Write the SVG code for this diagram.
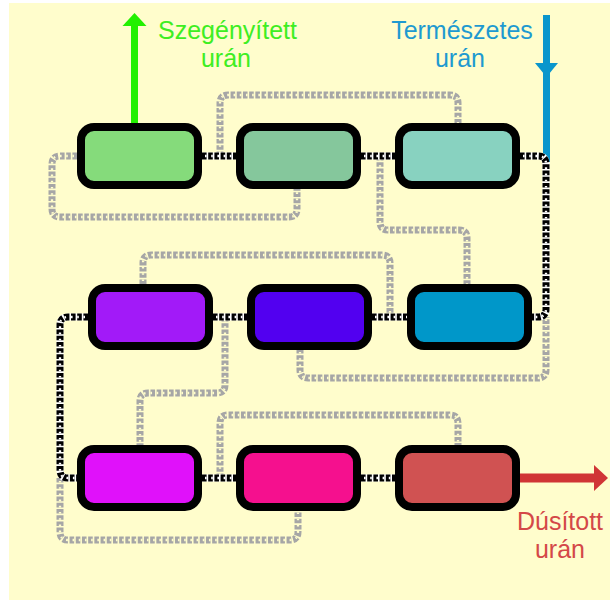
<svg xmlns="http://www.w3.org/2000/svg" width="610" height="600" viewBox="0 0 610 600">
  <style>
    .box { stroke: #000; stroke-width: 8; }
    .chain { fill: none; stroke-linejoin: round; }
    .g-base { stroke: #A6A6A6; stroke-width: 7; stroke-dasharray: 4.6 1.6; }
    .g-cut { stroke: #FFFDCC; stroke-width: 2.3; stroke-dasharray: 1.6 4.6; stroke-dashoffset: -3; }
    .k-under { stroke: #FFFFFF; stroke-width: 7; }
    .k-base { stroke: #000; stroke-width: 7; stroke-dasharray: 4.6 1.6; }
    .k-cut { stroke: #FFFFFF; stroke-width: 2.3; stroke-dasharray: 1.6 4.6; stroke-dashoffset: -3; }
    .lbl { font-family: "Liberation Sans", Arial, sans-serif; font-size: 25px; text-anchor: middle; }
  </style>
  <defs>
    <!-- return streams (gray) and forward streams (black) -->
    <path id="g1" d="M77,156 L60,156 Q52,156 52,164 L52,209 Q52,217 60,217 L289,217 Q297,217 297,209 L297,189"/>
    <path id="g2" d="M220,156 L220,103 Q220,95 228,95 L450,95 Q458,95 458,103 L458,123"/>
    <path id="g3" d="M380,156 L380,222 Q380,230 388,230 L459,230 Q467,230 467,238 L467,284"/>
    <path id="g4" d="M143,284 L143,263 Q143,255 151,255 L382,255 Q390,255 390,263 L390,317"/>
    <path id="g5" d="M300,349 L300,370 Q300,378 308,378 L538,378 Q546,378 546,370 L546,317"/>
    <path id="g6" d="M225,317 L225,385 Q225,393 217,393 L148,393 Q140,393 140,401 L140,445"/>
    <path id="g7" d="M60,478 L60,532 Q60,540 68,540 L290,540 Q298,540 298,532 L298,510"/>
    <path id="g8" d="M220,478 L220,423 Q220,415 228,415 L450,415 Q458,415 458,423 L458,445"/>
    <path id="k1" d="M202,156 L236,156"/>
    <path id="k2" d="M361,156 L395,156"/>
    <path id="k3" d="M213,317 L247,317"/>
    <path id="k4" d="M372,317 L407,317"/>
    <path id="k5" d="M202,478 L236,478"/>
    <path id="k6" d="M361,478 L395,478"/>
    <path id="k7" d="M520,156 L538,156 Q546,156 546,164 L546,309 Q546,317 538,317 L532,317"/>
    <path id="k8" d="M88,317 L68,317 Q60,317 60,325 L60,470 Q60,478 68,478 L77,478"/>
  </defs>

  <rect x="0" y="0" width="610" height="600" fill="#FFFFFF"/>
  <rect x="9" y="3" width="601" height="597" fill="#FFFDCC"/>

  <!-- feed and product streams -->
  <g id="streams">
    <line x1="134.5" y1="124" x2="134.5" y2="24" stroke="#22F000" stroke-width="7"/>
    <polygon points="122.5,26 134.5,13 146.5,26" fill="#22F000"/>
    <line x1="546.5" y1="15" x2="546.5" y2="162" stroke="#0A96CC" stroke-width="7"/>
    <polygon points="535,63 558,63 546.5,77" fill="#0A96CC"/>
    <line x1="519" y1="478" x2="597" y2="478" stroke="#D03535" stroke-width="9"/>
    <polygon points="594,465 608,478 594,491" fill="#D03535"/>
  </g>

  <g id="connectors" class="chain">
    <g class="g-base">
      <use href="#g1"/><use href="#g2"/><use href="#g3"/><use href="#g4"/>
      <use href="#g5"/><use href="#g6"/><use href="#g7"/><use href="#g8"/>
    </g>
    <g class="g-cut">
      <use href="#g1"/><use href="#g2"/><use href="#g3"/><use href="#g4"/>
      <use href="#g5"/><use href="#g6"/><use href="#g7"/><use href="#g8"/>
    </g>
    <g class="k-under">
      <use href="#k1"/><use href="#k2"/><use href="#k3"/><use href="#k4"/>
      <use href="#k5"/><use href="#k6"/><use href="#k7"/><use href="#k8"/>
    </g>
    <g class="k-base">
      <use href="#k1"/><use href="#k2"/><use href="#k3"/><use href="#k4"/>
      <use href="#k5"/><use href="#k6"/><use href="#k7"/><use href="#k8"/>
    </g>
    <g class="k-cut">
      <use href="#k1"/><use href="#k2"/><use href="#k3"/><use href="#k4"/>
      <use href="#k5"/><use href="#k6"/><use href="#k7"/><use href="#k8"/>
    </g>
  </g>

  <!-- separation stages -->
  <g id="stage1"><rect class="box" x="81" y="127" width="117" height="58" rx="13" fill="#85DB7B"/></g>
  <g id="stage2"><rect class="box" x="240" y="127" width="117" height="58" rx="13" fill="#85C79C"/></g>
  <g id="stage3"><rect class="box" x="399" y="127" width="117" height="58" rx="13" fill="#88D2C0"/></g>
  <g id="stage4"><rect class="box" x="92" y="288" width="117" height="58" rx="13" fill="#A21AF8"/></g>
  <g id="stage5"><rect class="box" x="251" y="288" width="117" height="58" rx="13" fill="#5200F0"/></g>
  <g id="stage6"><rect class="box" x="411" y="288" width="117" height="58" rx="13" fill="#0097C9"/></g>
  <g id="stage7"><rect class="box" x="81" y="449" width="117" height="58" rx="13" fill="#E011FA"/></g>
  <g id="stage8"><rect class="box" x="240" y="449" width="117" height="58" rx="13" fill="#F5108E"/></g>
  <g id="stage9"><rect class="box" x="399" y="449" width="117" height="58" rx="13" fill="#D05252"/></g>

  <g id="labels" class="lbl">
    <text x="227.5" y="39" fill="#3EEE22">Szegényített</text>
    <text x="226" y="67" fill="#3EEE22">urán</text>
    <text x="462" y="39" fill="#1E9AD0">Természetes</text>
    <text x="460" y="67" fill="#1E9AD0">urán</text>
    <text x="560" y="530" fill="#D44848">Dúsított</text>
    <text x="560" y="558" fill="#D44848">urán</text>
  </g>
</svg>
